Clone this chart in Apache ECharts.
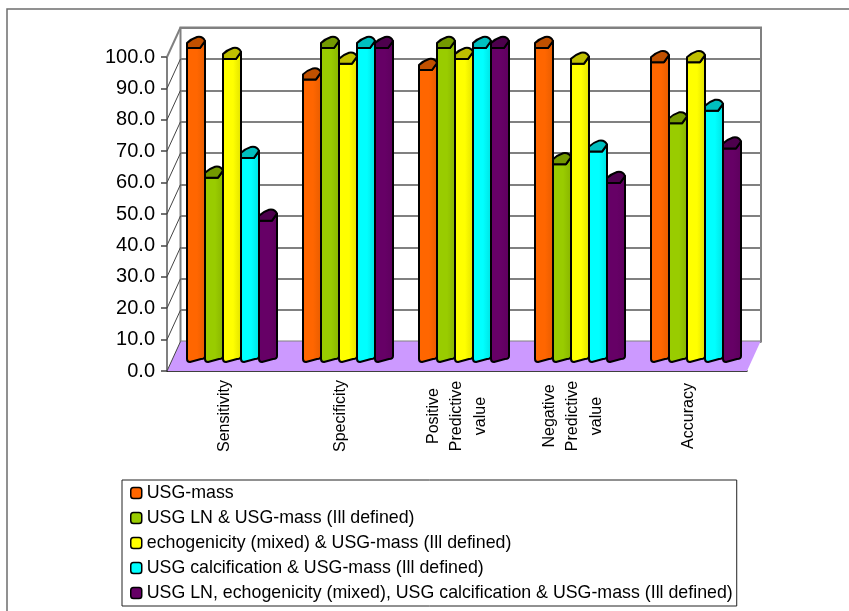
<!DOCTYPE html>
<html>
<head>
<meta charset="utf-8">
<title>USG chart</title>
<style>
html,body{margin:0;padding:0;background:#fff}
#chart{width:849px;height:611px}
</style>
<script src="https://cdn.jsdelivr.net/npm/echarts@6/dist/echarts.min.js"></script>
</head>
<body>
<div id="chart"></div>
<script>
var categories = ['Sensitivity','Specificity','Positive\nPredictive\nvalue','Negative\nPredictive\nvalue','Accuracy'];
var yTicks = [0,10,20,30,40,50,60,70,80,90,100];
var usgMass = [100,90,93,100,95.5];
var usgLn = [58.7,100,100,63,76];
var echoMixed = [96.5,95,96.5,95,95.5];
var usgCalc = [65,100,100,67,80];
var allFeatures = [45,100,100,57,68];
var seriesNames = [
    'USG-mass',
    'USG LN & USG-mass (Ill defined)',
    'echogenicity (mixed) & USG-mass (Ill defined)',
    'USG calcification & USG-mass (Ill defined)',
    'USG LN, echogenicity (mixed), USG calcification & USG-mass (Ill defined)'
];
var seriesValues = [usgMass,usgLn,echoMixed,usgCalc,allFeatures];
var seriesColors = ['#ff6600','#99cc00','#ffff00','#00ffff','#660066'];
var sideColors = ['#e65c00','#88b400','#e0e000','#00e0e0','#5c005c'];
var capColors = ['#c05000','#739900','#bfbf00','#00bfbf','#4d004d'];

var font = '"Liberation Sans", Arial, sans-serif';
var depthX = 13.5, depthY = -29.5;

// one 3D column, front face + right side + top cap
function renderBar(i, params, api) {
    var x = api.coord([api.value(0), 0])[0] + (i - 2) * 18 - 9;
    var base = api.coord([api.value(0), 0])[1];
    var top = api.coord([api.value(0), api.value(1)])[1];
    var w = 18;
    var body = 'M' + x + ' ' + top +
        'L' + x + ' ' + (base - 3) + 'Q' + x + ' ' + base + ' ' + (x + 3) + ' ' + base +
        'L' + (x + w - 4) + ' ' + (base - 3) + 'Q' + (x + w) + ' ' + (base - 3) + ' ' + (x + w) + ' ' + (base - 6) +
        'L' + (x + w) + ' ' + (top - 7) + 'L' + (x + w - 5) + ' ' + top + 'Z';
    var cap = 'M' + x + ' ' + top + 'L' + x + ' ' + (top - 5) +
        'Q' + (x + 4) + ' ' + (top - 9) + ' ' + (x + 10) + ' ' + (top - 11) +
        'Q' + (x + w - 2) + ' ' + (top - 12) + ' ' + (x + w) + ' ' + (top - 7) +
        'L' + (x + w - 5) + ' ' + top + 'Z';
    var stroke = {stroke:'#000', lineWidth:2, lineJoin:'round'};
    return {type:'group', children:[
        {type:'path', shape:{pathData:body}, style:Object.assign({
            fill:new echarts.graphic.LinearGradient(0,0,1,0,[
                {offset:0,color:seriesColors[i]},
                {offset:0.55,color:seriesColors[i]},
                {offset:1,color:sideColors[i]}
            ])}, stroke)},
        {type:'path', shape:{pathData:cap}, style:Object.assign({fill:capColors[i]}, stroke)}
    ]};
}

function barSeries(i) {
    return {
        name: seriesNames[i],
        type: 'custom',
        xAxisIndex: 2,
        yAxisIndex: 2,
        z: 10,
        itemStyle: {color: seriesColors[i]},
        encode: {x:0, y:1},
        data: seriesValues[i].map(function (v, k) { return [k, v]; }),
        renderItem: function (params, api) { return renderBar(i, params, api); }
    };
}

var myChart = echarts.init(document.getElementById('chart'), null, {renderer:'canvas'});
var option = {
    animation: false,
    backgroundColor: '#fff',
    textStyle: {fontFamily: font},
    graphic: [{
        type:'polyline',
        shape:{points:[[7,611],[7,9],[849,9]]},
        style:{stroke:'#6e6e6e', lineWidth:1.5, fill:null},
        silent:true
    }],
    legend: {
        orient:'vertical',
        left:122,
        top:480,
        height:300,
        padding:[4,4,4,8],
        itemWidth:11,
        itemHeight:11,
        itemGap:7,
        icon:'roundRect',
        backgroundColor:'#fff',
        borderColor:'#222',
        borderWidth:1,
        selectedMode:false,
        itemStyle:{borderColor:'#000', borderWidth:1.5},
        textStyle:{fontFamily:font, fontSize:17.8, color:'#000'},
        data:seriesNames
    },
    grid: [
        {left:167, top:57, width:580, height:314},
        {left:180.5, top:27.5, width:580.5, height:314, show:true, borderColor:'#808080', borderWidth:2, backgroundColor:'#fff', z:0},
        {left:174, top:48, width:580, height:314}
    ],
    xAxis: [
        {
            type:'category', gridIndex:0, data:categories,
            axisLine:{lineStyle:{color:'#000', width:1.5}},
            axisTick:{length:6, lineStyle:{color:'#444'}},
            axisLabel:{
                rotate:90, interval:0, hideOverlap:false,
                align:'center', verticalAlign:'middle',
                margin:45, fontSize:16, lineHeight:23.5, color:'#000', fontFamily:font
            }
        },
        {type:'category', gridIndex:1, data:categories, axisLine:{show:false}, axisTick:{show:false}, axisLabel:{show:false}},
        {type:'category', gridIndex:2, data:categories, show:false}
    ],
    yAxis: [
        {
            type:'value', gridIndex:0, min:0, max:100, interval:10,
            axisLine:{show:true, lineStyle:{color:'#808080', width:2}},
            axisTick:{show:true, length:6, lineStyle:{color:'#444', width:1.5}},
            splitLine:{show:false},
            axisLabel:{
                margin:12, fontSize:20, color:'#000', fontFamily:font,
                formatter:function (v) { return v.toFixed(1); }
            }
        },
        {
            type:'value', gridIndex:1, min:0, max:100, interval:10,
            axisLine:{show:false}, axisTick:{show:false}, axisLabel:{show:false},
            splitLine:{show:true, lineStyle:{color:'#808080', width:2}}
        },
        {type:'value', gridIndex:2, min:0, max:100, interval:10, show:false}
    ],
    series: [
        // floor
        {
            type:'custom', xAxisIndex:0, yAxisIndex:0, z:3, silent:true,
            data:[[0,0]], encode:{x:0,y:1},
            renderItem:function (params, api) {
                var cs = params.coordSys, y = api.coord([0,0])[1];
                return {type:'polygon', shape:{points:[
                    [cs.x,y],[cs.x+cs.width,y],
                    [cs.x+cs.width+depthX,y+depthY],[cs.x+depthX,y+depthY]
                ]}, style:{fill:'#cc99ff'}};
            }
        },
        // diagonal lines on the left wall
        {
            type:'custom', xAxisIndex:0, yAxisIndex:0, z:4, silent:true,
            data:yTicks.map(function (v) { return [0,v]; }), encode:{x:0,y:1},
            renderItem:function (params, api) {
                var cs = params.coordSys, y = api.coord([0,api.value(1)])[1];
                return {type:'line', shape:{x1:cs.x,y1:y,x2:cs.x+depthX,y2:y+depthY},
                    style:{stroke:api.value(1) === 100 ? '#808080' : '#444', lineWidth:api.value(1) === 100 ? 2 : 1}};
            }
        },
        barSeries(0), barSeries(1), barSeries(2), barSeries(3), barSeries(4)
    ]
};
myChart.setOption(option);

window.addEventListener("resize",function(){
    myChart.resize();
});
</script>
</body>
</html>
